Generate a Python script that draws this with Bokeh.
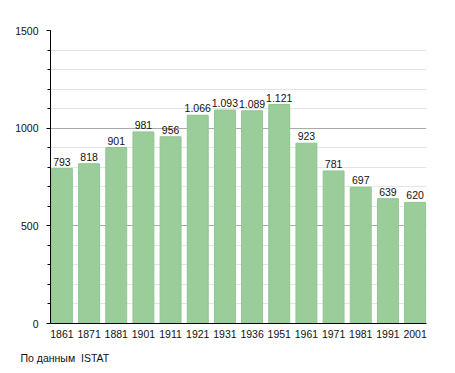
from bokeh.plotting import figure
from bokeh.models import ColumnDataSource, FixedTicker, Range1d, Title, LabelSet
from bokeh.core.properties import value
from bokeh.embed import file_html
from bokeh.resources import INLINE

years = ["1861", "1871", "1881", "1901", "1911", "1921", "1931", "1936", "1951", "1961", "1971", "1981", "1991", "2001"]
population = [793, 818, 901, 981, 956, 1066, 1093, 1089, 1121, 923, 781, 697, 639, 620]
y_ticks = [0, 500, 1000, 1500]
caption = "По данным\u00a0 ISTAT"

xs = list(range(len(years)))
labels = [f"{v:,}".replace(",", ".") for v in population]
src = ColumnDataSource(dict(x=xs, top=population, label=labels))

FONT = "Liberation Sans"
TXT = "#111111"
FS = "10.5px"

p = figure(width=455, height=373, output_backend="svg", toolbar_location=None,
           x_range=Range1d(-0.42, len(years) - 1 + 0.42), y_range=Range1d(0, 1500),
           min_border_left=50, min_border_right=29, min_border_top=30, min_border_bottom=10)
p.outline_line_color = None
p.background_fill_color = "white"

p.vbar(x="x", top="top", bottom=0, width=0.77, source=src,
       fill_color="#9acd9a", line_color="#92c492", line_width=1)

p.add_layout(LabelSet(x="x", y="top", text="label", source=src, text_align="center",
                      text_baseline="bottom", y_offset=3, text_font=value(FONT),
                      text_font_size=FS, text_color=TXT))

p.xaxis.ticker = FixedTicker(ticks=xs)
p.xaxis.major_label_overrides = {i: y for i, y in enumerate(years)}
p.xaxis.major_tick_line_color = None
p.xaxis.minor_tick_line_color = None
p.xaxis.axis_line_color = "black"
p.xaxis.major_label_text_font = FONT
p.xaxis.major_label_text_font_size = FS
p.xaxis.major_label_text_color = TXT
p.xaxis.major_label_standoff = 0

p.yaxis.ticker = FixedTicker(ticks=y_ticks, minor_ticks=list(range(0, 1501, 100)))
p.yaxis.axis_line_color = "black"
p.yaxis.major_tick_line_color = "black"
p.yaxis.minor_tick_line_color = "black"
p.yaxis.major_tick_out = 4
p.yaxis.major_tick_in = 0
p.yaxis.minor_tick_out = 3
p.yaxis.minor_tick_in = 0
p.yaxis.major_label_text_font = FONT
p.yaxis.major_label_text_font_size = FS
p.yaxis.major_label_text_color = TXT
p.yaxis.major_label_standoff = 8

p.xgrid.grid_line_color = None
p.ygrid.grid_line_color = "#aaaaaa"
p.ygrid.minor_grid_line_color = "#e4e4e4"

p.add_layout(Title(text=caption, align="left", offset=-30, standoff=19,
                   text_font=FONT, text_font_size=FS, text_font_style="normal",
                   text_color=TXT), "below")

open("out.html", "w").write(file_html(p, INLINE))
